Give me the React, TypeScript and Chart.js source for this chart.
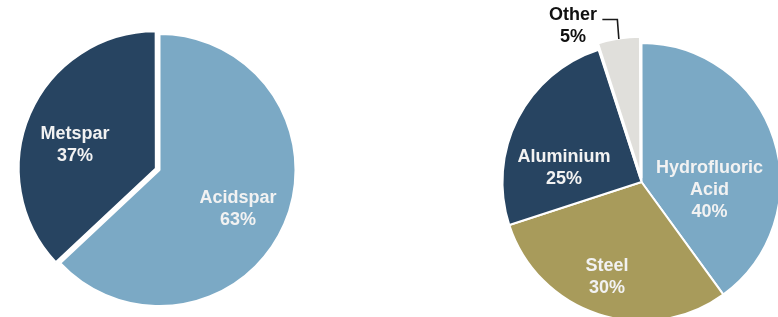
import React, { useEffect, useRef } from "react";
import { Chart, registerables } from "chart.js";

Chart.register(...registerables);

// ---- data ----
const leftCategories = ["Acidspar", "Metspar"];
const leftValues = [63, 37];
const leftLabelLines = [["Acidspar"], ["Metspar"]];

const rightCategories = ["Hydrofluoric Acid", "Steel", "Aluminium", "Other"];
const rightValues = [40, 30, 25, 5];
const rightLabelLines = [["Hydrofluoric", "Acid"], ["Steel"], ["Aluminium"], ["Other"]];

// ---- styles ----
const LIGHT_BLUE = "#7BA9C5";
const NAVY = "#274461";
const OLIVE = "#A89B5B";
const GREY = "#E0DFDB";
const FONT = "bold 18px 'Liberation Sans', Arial, Helvetica, sans-serif";
const LINE_H = 22;

type Placement = { angle: number; r: number; color: string; leader?: boolean };

const leftPlacement: Placement[] = [
  { angle: 116.4, r: 0.645, color: "#F2F2F2" },
  { angle: 286.3, r: 0.647, color: "#F2F2F2" },
];
const rightPlacement: Placement[] = [
  { angle: 96.7, r: 0.493, color: "#F2F2F2" },
  { angle: 199.9, r: 0.73, color: "#F2F2F2" },
  { angle: 280.1, r: 0.566, color: "#F2F2F2" },
  { angle: 336.2, r: 1.223, color: "#111111", leader: true },
];

function makeLabelPlugin(lines: string[][], values: number[], placement: Placement[]) {
  return {
    id: "pieLabels",
    afterDatasetsDraw(chart: any) {
      const ctx = chart.ctx as CanvasRenderingContext2D;
      const meta = chart.getDatasetMeta(0);
      const total = values.reduce((a, b) => a + b, 0);
      meta.data.forEach((arc: any, i: number) => {
        const p = arc.getProps(["x", "y", "outerRadius", "startAngle", "endAngle", "circumference"], true);
        const pl = placement[i];
        const th = ((pl.angle - 90) * Math.PI) / 180;
        const cx = p.x + Math.cos(th) * pl.r * p.outerRadius;
        const cy = p.y + Math.sin(th) * pl.r * p.outerRadius;
        const txt = [...lines[i], `${Math.round((values[i] / total) * 100)}%`];
        ctx.save();
        ctx.font = FONT;
        ctx.fillStyle = pl.color;
        ctx.textAlign = "center";
        ctx.textBaseline = "middle";
        const startY = cy - ((txt.length - 1) * LINE_H) / 2;
        txt.forEach((t, k) => ctx.fillText(t, cx, startY + k * LINE_H));
        if (pl.leader) {
          const off = (arc.options.offset || 0) / 4;
          const fix = 1 - Math.sin(Math.min(Math.PI, p.circumference || 0));
          const mid = (p.startAngle + p.endAngle) / 2;
          const d = p.outerRadius + off + off * fix - 1;
          const x0 = p.x + Math.cos(mid) * d;
          const y0 = p.y + Math.sin(mid) * d;
          const x1 = x0 - 1.5;
          const y1 = startY + 4;
          const x2 = x1 - 15;
          ctx.strokeStyle = "#1a1a1a";
          ctx.lineWidth = 1.6;
          ctx.beginPath();
          ctx.moveTo(x0, y0);
          ctx.lineTo(x1, y1);
          ctx.lineTo(x2, y1);
          ctx.stroke();
        }
        ctx.restore();
      });
    },
  };
}

function PieCanvas(props: {
  categories: string[];
  values: number[];
  colors: string[];
  offsets: number[];
  borderWidths: number[];
  radius: number;
  padding: { left: number; right: number; top: number; bottom: number };
  lines: string[][];
  placement: Placement[];
  style: React.CSSProperties;
}) {
  const ref = useRef<HTMLCanvasElement>(null);
  useEffect(() => {
    if (!ref.current) return;
    const chart = new Chart(ref.current, {
      type: "pie",
      data: {
        labels: props.categories,
        datasets: [
          {
            data: props.values,
            backgroundColor: props.colors,
            borderColor: "#FFFFFF",
            borderWidth: props.borderWidths,
            offset: props.offsets,
            radius: props.radius,
            clip: false,
          } as any,
        ],
      },
      options: {
        animation: false,
        responsive: false,
        maintainAspectRatio: false,
        layout: { padding: props.padding },
        plugins: { legend: { display: false }, tooltip: { enabled: false } },
        events: [],
      },
      plugins: [makeLabelPlugin(props.lines, props.values, props.placement)],
    });
    return () => chart.destroy();
  }, []);
  return <canvas ref={ref} width={389} height={317} style={props.style} />;
}

export default function App() {
  return (
    <div style={{ position: "absolute", left: 0, top: 0, width: 778, height: 317, background: "#fff", overflow: "hidden" }}>
      <PieCanvas
        categories={leftCategories}
        values={leftValues}
        colors={[LIGHT_BLUE, NAVY]}
        offsets={[0, 16]}
        borderWidths={[2, 2]}
        radius={136}
        padding={{ left: 0, right: 70, top: 23, bottom: 0 }}
        lines={leftLabelLines}
        placement={leftPlacement}
        style={{ position: "absolute", left: 0, top: 0, width: 389, height: 317 }}
      />
      <PieCanvas
        categories={rightCategories}
        values={rightValues}
        colors={[LIGHT_BLUE, OLIVE, NAVY, GREY]}
        offsets={[0, 0, 0, 16]}
        borderWidths={[2, 2, 2, 3]}
        radius={139}
        padding={{ left: 116, right: 0, top: 47, bottom: 0 }}
        lines={rightLabelLines}
        placement={rightPlacement}
        style={{ position: "absolute", left: 389, top: 0, width: 389, height: 317 }}
      />
    </div>
  );
}
